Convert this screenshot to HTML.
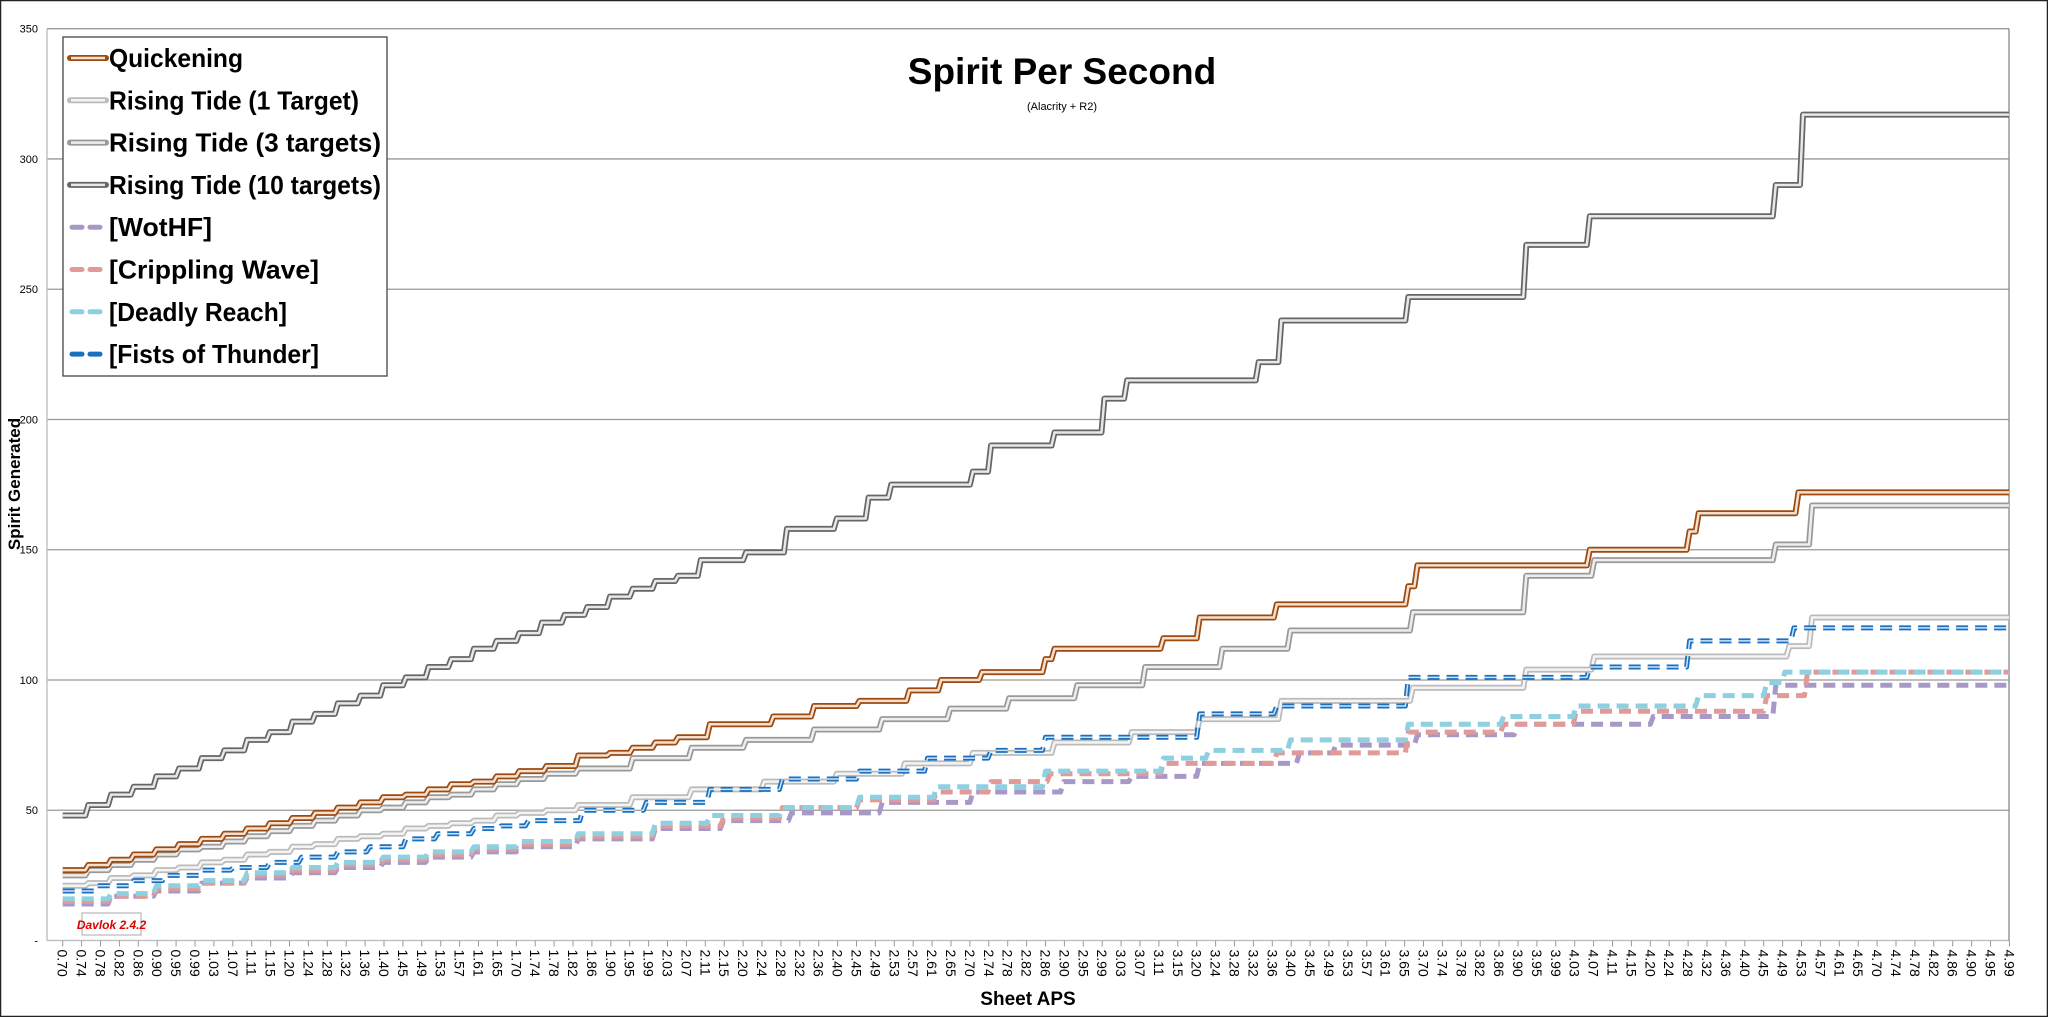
<!DOCTYPE html>
<html><head><meta charset="utf-8"><style>
html,body{margin:0;padding:0;background:#fff;}
svg{display:block;font-family:"Liberation Sans",sans-serif;}
</style></head><body>
<svg id="chart" width="2048" height="1017" viewBox="0 0 2048 1017">
<rect x="0.5" y="0.5" width="2047" height="1016" fill="#fff" stroke="#222" stroke-width="1.5"/>
<g id="grid"></g>
<g id="xaxis"></g>
<g id="yaxis"></g>
<g id="series"></g>
<text x="1062" y="84" text-anchor="middle" font-size="37" font-weight="bold">Spirit Per Second</text>
<text x="1062" y="110" text-anchor="middle" font-size="11">(Alacrity + R2)</text>
<text x="1028" y="1005" text-anchor="middle" font-size="19" font-weight="bold">Sheet APS</text>
<text transform="translate(20,484) rotate(-90)" text-anchor="middle" font-size="17" font-weight="bold">Spirit Generated</text>
<g id="legend"></g>
<g>
<rect x="82" y="913" width="59" height="22" fill="#fff" stroke="#aaa"/>
<text x="111.5" y="929" text-anchor="middle" font-size="12" font-weight="bold" font-style="italic" fill="#e00000">Davlok 2.4.2</text>
</g>
</svg>
<script>
const yTicks=[0,50,100,150,200,250,300,350];
const xStart=0.70, xStep=1/24, xCount=104;
// series data: step breakpoints (aps, value)
const quickX=[0.70,0.75,0.80,0.85,0.90,0.95,1.00,1.05,1.10,1.15,1.20,1.25,1.30,1.35,1.40,1.45,1.50,1.55,1.60,1.65,1.70,1.76,1.83,1.90,1.95,2.00,2.05,2.12,2.26,2.35,2.45,2.56,2.63,2.72,2.86,2.88,3.12,3.20,3.37,3.66,3.68,4.06,4.28,4.30,4.52];
const quickY=[27,29,31,33,35,37,39,41,43,45,47,49,51,53,55,56,58,60,61,63,65,67,71,72,74,76,78,83,86,90,92,96,100,103,108,112,116,124,129,136,144,150,157,164,172];
const rt1X=[0.70,0.75,0.80,0.85,0.90,0.95,1.00,1.05,1.10,1.15,1.20,1.25,1.30,1.35,1.40,1.45,1.50,1.55,1.60,1.65,1.70,1.76,1.83,1.95,2.08,2.24,2.40,2.55,2.70,2.88,3.05,3.20,3.38,3.67,3.92,4.07,4.50,4.55];
const rt1Y=[21,22,24,25,27,28,30,31,33,34,36,37,39,40,41,43,44,45,46,48,49,50,52,55,58,61,64,68,72,76,80,85,92,97,104,109,113,124];
const rt3X=[0.70,0.75,0.80,0.85,0.90,0.95,1.00,1.05,1.10,1.15,1.20,1.25,1.30,1.35,1.40,1.45,1.50,1.55,1.60,1.65,1.70,1.76,1.83,1.95,2.08,2.20,2.35,2.50,2.65,2.78,2.93,3.08,3.25,3.40,3.67,3.92,4.07,4.47,4.55];
const rt3Y=[25,27,29,31,33,35,36,38,40,42,44,46,48,50,51,53,55,56,58,60,62,64,66,70,74,77,81,85,89,93,98,105,112,119,126,140,146,152,167];
const rt10X=[0.70,0.75,0.80,0.85,0.90,0.95,1.00,1.05,1.10,1.15,1.20,1.25,1.30,1.35,1.40,1.45,1.50,1.55,1.60,1.65,1.70,1.75,1.80,1.85,1.90,1.95,2.00,2.05,2.10,2.20,2.29,2.40,2.47,2.52,2.70,2.74,2.88,2.99,3.04,3.33,3.38,3.66,3.92,4.06,4.47,4.53];
const rt10Y=[48,52,56,59,63,66,70,73,77,80,84,87,91,94,98,101,105,108,112,115,118,122,125,128,132,135,138,140,146,149,158,162,170,175,180,190,195,208,215,222,238,247,267,278,290,317];
const wotX=[0.70,0.80,0.90,1.00,1.10,1.20,1.30,1.40,1.50,1.60,1.70,1.83,2.00,2.15,2.30,2.50,2.70,2.90,3.05,3.20,3.42,3.50,3.68,3.90,4.20,4.47];
const wotY=[14,17,19,22,24,26,28,30,32,34,36,39,43,46,49,53,57,61,63,68,72,75,79,83,86,98];
const cripX=[0.70,0.80,0.90,1.00,1.10,1.20,1.30,1.40,1.50,1.60,1.70,1.83,2.00,2.15,2.28,2.45,2.62,2.74,2.87,3.12,3.37,3.66,3.87,4.03,4.45,4.54];
const cripY=[15,17,20,22,25,27,29,31,33,35,37,40,44,47,51,54,57,61,64,68,72,80,83,88,94,103];
const drX=[0.70,0.80,0.90,1.00,1.10,1.20,1.30,1.40,1.50,1.60,1.70,1.83,2.00,2.12,2.28,2.45,2.62,2.86,3.12,3.22,3.40,3.66,3.87,4.03,4.30,4.45,4.49];
const drY=[16,18,21,23,26,28,30,32,34,36,38,41,45,48,51,55,59,65,70,73,77,83,86,90,94,99,103];
const fotX=[0.70,0.77,0.85,0.92,1.00,1.07,1.15,1.22,1.30,1.37,1.45,1.52,1.60,1.66,1.72,1.84,1.98,2.12,2.28,2.45,2.60,2.74,2.86,3.20,3.37,3.66,4.06,4.28,4.51];
const fotY=[19,21,23,25,27,28,30,32,34,36,39,41,43,44,46,50,53,58,62,65,70,73,78,87,90,101,105,115,120];
const seriesNames=["Quickening","Rising Tide (1 Target)","Rising Tide (3 targets)","Rising Tide (10 targets)","[WotHF]","[Crippling Wave]","[Deadly Reach]","[Fists of Thunder]"];

const L=47,R=2009,T=28.7,B=940.5;
function xs(a){return 62.7+(a-0.70)*453.6;}
function ys(v){return B-(v/350)*(B-T);}
const NS="http://www.w3.org/2000/svg";
function mk(tag,attrs,parent){const e=document.createElementNS(NS,tag);for(const k in attrs)e.setAttribute(k,attrs[k]);parent.appendChild(e);return e;}
const grid=document.getElementById('grid'),xa=document.getElementById('xaxis'),ya=document.getElementById('yaxis'),sg=document.getElementById('series'),lg=document.getElementById('legend');
yTicks.forEach(v=>{
  const ln=mk('line',{x1:L,x2:R,y1:ys(v),y2:ys(v),stroke:v===0?'#bbb':'#999','stroke-width':1.3},grid);
  
  
  const t=mk('text',{x:38,y:ys(v)+4,'text-anchor':'end','font-size':11},ya);
  t.textContent=v===0?'-':String(v);
  
  
});
mk('line',{x1:L,x2:L,y1:T,y2:B,stroke:'#bbb','stroke-width':1.3},grid);
mk('line',{x1:R,x2:R,y1:T,y2:B,stroke:'#888','stroke-width':1.3},grid);
for(let i=0;i<xCount;i++){
  const a=xStart+i*xStep, x=xs(a);
  mk('line',{x1:x,x2:x,y1:B,y2:B+6,stroke:'#999'},xa);
  const lab=(Math.floor(a*100+1e-6)/100).toFixed(2);
  const t=mk('text',{transform:`translate(${x-5},${B+9}) rotate(90)`,'font-size':14},xa);
  t.textContent=lab;
  
  
}
function stepPath(X,Y){
  let d='';
  for(let i=0;i<X.length;i++){
    const x=xs(X[i]),y=ys(Y[i]);
    if(i===0)d+=`M${x},${y}`;else d+=`L${x+3},${y}`;
    const nx=i<X.length-1?xs(X[i+1]):R;
    d+=`L${nx},${y}`;
  }
  return d;
}
const styles=[
 {X:rt10X,Y:rt10Y,outer:'#666',inner:'#e8e8e8',w:6,dash:null},
 {X:rt3X,Y:rt3Y,outer:'#999',inner:'#eee',w:6,dash:null},
 {X:rt1X,Y:rt1Y,outer:'#bbb',inner:'#f4f4f4',w:6,dash:null},
 {X:wotX,Y:wotY,outer:'#a898c8',inner:null,w:5,dash:'12 7'},
 {X:cripX,Y:cripY,outer:'#e09a98',inner:null,w:5,dash:'12 7'},
 {X:drX,Y:drY,outer:'#8ecfe0',inner:null,w:5,dash:'12 7'},
 {X:fotX,Y:fotY,outer:'#1a70c0',inner:'#cfe4f8',w:5,dash:'12 7'},
 {X:quickX,Y:quickY,outer:'#9c4a10',inner:'#f4e0d0',w:6,dash:null}
];
const names=['series-rising-tide-10','series-rising-tide-3','series-rising-tide-1','series-wothf','series-crippling-wave','series-deadly-reach','series-fists-of-thunder','series-quickening'];
styles.forEach((s,i)=>{
  const d=stepPath(s.X,s.Y);
  const g=mk('g',{},sg);
  
  
  const a={d:d,fill:'none',stroke:s.outer,'stroke-width':s.w,'stroke-linejoin':'round'};
  if(s.dash)a['stroke-dasharray']=s.dash;
  mk('path',a,g);
  if(s.inner){const b={d:d,fill:'none',stroke:s.inner,'stroke-width':s.w-3.5};if(s.dash)b['stroke-dasharray']=s.dash;mk('path',b,g);}
});
// legend
mk('rect',{x:63,y:37,width:324,height:339,fill:'#fff',stroke:'#444','stroke-width':1.3},lg);
const legStyle=[styles[7],styles[2],styles[1],styles[0],styles[3],styles[4],styles[5],styles[6]];
const legW=[134,250,272,272,103,210,178,210];
seriesNames.forEach((n,i)=>{
  const y=58+i*42.3;
  const g=mk('g',{},lg);
  
  
  const s=legStyle[i];
  if(s.dash){
    mk('line',{x1:72,x2:82,y1:y,y2:y,stroke:s.outer,'stroke-width':5,'stroke-linecap':'round'},g);
    mk('line',{x1:90,x2:100,y1:y,y2:y,stroke:s.outer,'stroke-width':5,'stroke-linecap':'round'},g);
  }else{
    mk('line',{x1:70,x2:106,y1:y,y2:y,stroke:s.outer,'stroke-width':6,'stroke-linecap':'round'},g);
    mk('line',{x1:71,x2:105,y1:y,y2:y,stroke:s.inner,'stroke-width':2.5},g);
  }
  const t=mk('text',{x:109,y:y+9,'font-size':26,'font-weight':'bold',textLength:legW[i],lengthAdjust:'spacingAndGlyphs'},g);
  t.textContent=n;
});
</script>
</body></html>
